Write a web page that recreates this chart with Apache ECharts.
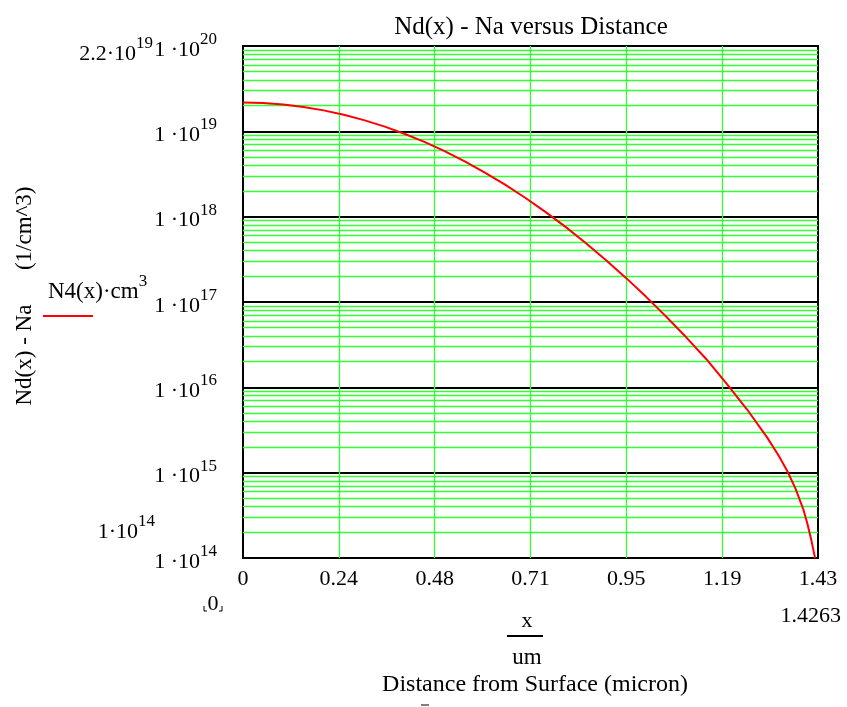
<!DOCTYPE html>
<html><head><meta charset="utf-8">
<script src="https://cdn.jsdelivr.net/npm/echarts@6/dist/echarts.min.js"></script>
<style>html,body{margin:0;padding:0;background:#fff}#c{width:847px;height:707px}</style>
</head><body><div id="c"></div>
<script>
const xMax = 1.4263;
const xTickLabels = ['0','0.24','0.48','0.71','0.95','1.19','1.43'];
const yTickExponents = [14,15,16,17,18,19,20];
const yMinorMultipliers = [2,3,4,5,6,7,8,9];
const yMinorDecades = [14,15,16,17,18,19];
const xValues = [0,0.05,0.10,0.15,0.20,0.25,0.30,0.35,0.40,0.45,0.50,0.55,0.60,0.65,0.70,0.75,0.80,0.85,0.90,0.95,1.00,1.05,1.10,1.15,1.20,1.25,1.30,1.33,1.35,1.37,1.39,1.40,1.41,1.419];
const nValues = [2.17e19,2.142e19,2.059e19,1.929e19,1.760e19,1.564e19,1.354e19,1.142e19,9.38e18,7.51e18,5.85e18,4.45e18,3.29e18,2.37e18,1.665e18,1.139e18,7.59e17,4.92e17,3.11e17,1.917e17,1.149e17,6.72e16,3.83e16,2.12e16,1.10e16,5.53e15,2.59e15,1.55e15,1.045e15,6.6e14,3.7e14,2.52e14,1.6e14,1.0e14];

const FONT = 'Liberation Serif';
const GREEN = '#33ff33';
const chart = echarts.init(document.getElementById('c'));
const seriesData = xValues.map((x,i)=>[x,nValues[i]]);
const minorLines = [];
yMinorDecades.forEach(e=>yMinorMultipliers.forEach(m=>minorLines.push({yAxis: m*Math.pow(10,e)})));
function supRich(bs, ss){
  return {
    b:{fontFamily:FONT,fontSize:bs,lineHeight:30,color:'#000',verticalAlign:'bottom'},
    s:{fontFamily:FONT,fontSize:ss,color:'#000',verticalAlign:'top'}
  };
}
function txt(x,y,text,size,align,extra){
  return Object.assign({type:'text',x:x,y:y,silent:true,style:{text:text,font:size+'px '+FONT,fill:'#000',textAlign:align||'center',textVerticalAlign:'middle'}},extra||{});
}
function richTxt(x,y,text,align,bs,ss){
  return {type:'text',x:x,y:y,silent:true,style:{text:text,rich:supRich(bs||22,ss||17),textAlign:align||'right',textVerticalAlign:'middle'}};
}
chart.setOption({
  animation:false,
  backgroundColor:'#fff',
  grid:{left:243,right:29,top:46,bottom:149,show:true,borderColor:'#000',borderWidth:2,backgroundColor:'transparent'},
  xAxis:[
    {type:'value',min:0,max:xMax,show:false},
    {type:'value',min:0,max:6,interval:1,position:'bottom',
     axisLine:{show:false},axisTick:{show:false},
     axisLabel:{margin:10,fontFamily:FONT,fontSize:22,color:'#000',formatter:v=>xTickLabels[Math.round(v)]},
     splitLine:{show:true,showMinLine:false,showMaxLine:false,lineStyle:{color:GREEN,width:1.3}}}
  ],
  yAxis:{type:'log',logBase:10,min:1e14,max:1e20,
    axisLine:{show:false},axisTick:{show:false},
    axisLabel:{margin:26,formatter:v=>{const e=Math.round(Math.log10(v));return yTickExponents.indexOf(e)>=0?'{b|1 ·10}{s|'+e+'}':'';},rich:supRich(22,17)},
    splitLine:{show:true,lineStyle:{color:'#000',width:2}},
    minorTick:{show:false},minorSplitLine:{show:false}
  },
  series:[{
    type:'line',xAxisIndex:0,yAxisIndex:0,data:seriesData,showSymbol:false,symbol:'none',
    lineStyle:{color:'#ff0000',width:2},z:3,silent:true,
    markLine:{z:1,silent:true,symbol:['none','none'],label:{show:false},emphasis:{disabled:true},
      lineStyle:{color:GREEN,width:1.3,type:'solid'},data:minorLines}
  }],
  graphic:[
    txt(531,27,'Nd(x) - Na versus Distance',25),
    txt(25,296,'Nd(x) - Na      (1/cm^3)',23,'center',{rotation:Math.PI/2}),
    richTxt(48,288,'{b|N4(x)·cm}{s|3}','left',23,17),
    {type:'line',silent:true,shape:{x1:43,y1:316,x2:93,y2:316},style:{stroke:'#ff0000',lineWidth:2}},
    richTxt(153,50,'{b|2.2·10}{s|19}'),
    richTxt(155,528,'{b|1·10}{s|14}'),
    txt(841,616,'1.4263',22,'right'),
    txt(213,604,'0',22),
    {type:'polyline',silent:true,shape:{points:[[204,606],[204,611],[207,611]]},style:{stroke:'#000',lineWidth:1,fill:null}},
    {type:'polyline',silent:true,shape:{points:[[219,611],[222,611],[222,606]]},style:{stroke:'#000',lineWidth:1,fill:null}},
    txt(527,621,'x',22),
    {type:'line',silent:true,shape:{x1:507,y1:636,x2:543,y2:636},style:{stroke:'#000',lineWidth:2}},
    txt(527,658,'um',23),
    txt(535,685,'Distance from Surface (micron)',24),
    {type:'line',silent:true,shape:{x1:421,y1:705,x2:429,y2:705},style:{stroke:'#000',lineWidth:1}}
  ]
});
</script></body></html>
